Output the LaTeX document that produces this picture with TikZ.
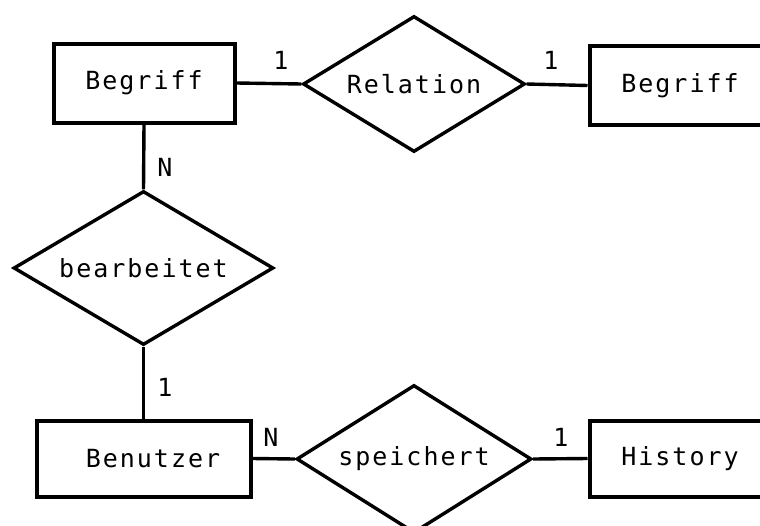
\documentclass[tikz,border=0pt]{standalone}
\usepackage{fontspec}
\setmonofont[LetterSpace=8]{DejaVu Sans Mono}
\usetikzlibrary{shapes.geometric}
\begin{document}
\begin{tikzpicture}[x=1pt,y=-1pt,
  every node/.style={font=\ttfamily\fontsize{25}{30}\selectfont},
  entity/.style={draw,line width=4pt,rectangle,inner sep=0pt},
  relship/.style={draw,line width=3.4pt,diamond,inner sep=0pt},
  link/.style={line width=3.4pt},
  card/.style={inner sep=0pt}]
\useasboundingbox (0,0) rectangle (760,525);
\clip (0,0) rectangle (760,525);
% entities
\node[entity,minimum width=181pt,minimum height=79pt] (beg1) at (144,83) {Begriff};
\node[entity,minimum width=181pt,minimum height=79pt] (beg2) at (680,85.5) {Begriff};
\node[entity,minimum width=214pt,minimum height=76pt] (ben) at (143.5,458.5) {\hspace*{19pt}Benutzer};
\node[entity,minimum width=181pt,minimum height=76pt] (hist) at (680,458.5) {History};
% relationships
\node[relship,aspect=1.63,minimum width=222pt,minimum height=136pt] (rel) at (414,84) {Relation};
\node[relship,aspect=1.69,minimum width=260pt,minimum height=154pt] (bear) at (143.5,268) {bearbeitet};
\node[relship,aspect=1.59,minimum width=235pt,minimum height=148pt] (spei) at (414,459) {speichert};
% connectors
\draw[link] (beg1.east) -- (rel.west);
\draw[link] (rel.east) -- (beg2.west);
\draw[link] (beg1.south) -- (bear.north);
\draw[link] (bear.south) -- (ben.north);
\draw[link] (ben.east) -- (spei.west);
\draw[link] (spei.east) -- (hist.west);
% cardinalities
\node[card] (c1) at (281,60) {1};
\node[card] (c2) at (551,60) {1};
\node[card] (c3) at (165,167) {N};
\node[card] (c4) at (165,387) {1};
\node[card] (c5) at (271,437) {N};
\node[card] (c6) at (561,437) {1};
\end{tikzpicture}
\end{document}
